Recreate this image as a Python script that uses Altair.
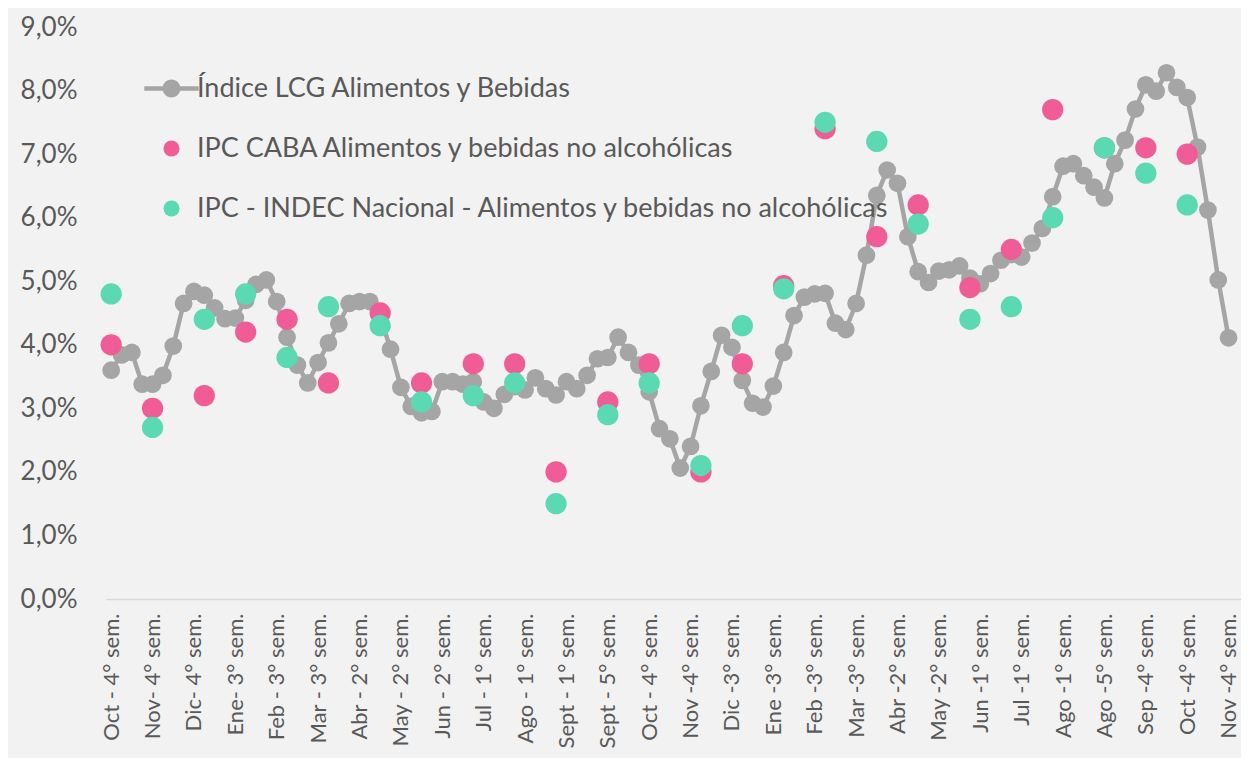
import json
import altair as alt
import pandas as pd

# ---------------- data ----------------
week_labels = [
    "Oct - 4° sem.", "Nov- 4° sem.", "Dic- 4° sem.", "Ene- 3° sem.", "Feb - 3° sem.",
    "Mar - 3° sem.", "Abr - 2° sem.", "May - 2° sem.", "Jun - 2° sem.", "Jul - 1° sem.",
    "Ago - 1° sem.", "Sept - 1° sem.", "Sept - 5° sem.", "Oct - 4° sem.", "Nov -4° sem.",
    "Dic -3° sem.", "Ene -3° sem.", "Feb -3° sem.", "Mar -3° sem.", "Abr -2° sem.",
    "May -2° sem.", "Jun -1° sem.", "Jul -1° sem.", "Ago -1° sem.", "Ago -5° sem.",
    "Sep -4° sem.", "Oct -4° sem.", "Nov -4° sem.",
]

lcg_weekly = [
    3.60, 3.84, 3.88, 3.38, 3.38, 3.52, 3.98, 4.65, 4.84, 4.78,
    4.58, 4.41, 4.42, 4.70, 4.95, 5.02, 4.68, 4.12, 3.68, 3.40,
    3.72, 4.03, 4.33, 4.65, 4.68, 4.68, 4.45, 3.93, 3.33, 3.03,
    2.93, 2.95, 3.42, 3.42, 3.38, 3.42, 3.10, 3.00, 3.22, 3.34,
    3.29, 3.48, 3.31, 3.21, 3.42, 3.31, 3.52, 3.78, 3.80, 4.12,
    3.88, 3.68, 3.26, 2.68, 2.52, 2.06, 2.40, 3.04, 3.58, 4.15,
    3.96, 3.44, 3.08, 3.02, 3.35, 3.88, 4.46, 4.75, 4.80, 4.81,
    4.34, 4.24, 4.65, 5.41, 6.35, 6.75, 6.54, 5.70, 5.15, 4.98,
    5.16, 5.18, 5.24, 5.05, 4.96, 5.12, 5.33, 5.42, 5.38, 5.60,
    5.83, 6.33, 6.81, 6.85, 6.66, 6.48, 6.31, 6.85, 7.22, 7.71,
    8.09, 7.99, 8.28, 8.05, 7.89, 7.11, 6.12, 5.02, 4.11,
]

month_week_index = [0, 4, 9, 13, 17, 21, 26, 30, 35, 39, 43, 48, 52, 57, 61,
                    65, 69, 74, 78, 83, 87, 91, 96, 100, 104]
caba = [4.0, 3.0, 3.2, 4.2, 4.4, 3.4, 4.5, 3.4, 3.7, 3.7, 2.0, 3.1, 3.7, 2.0, 3.7,
        4.93, 7.4, 5.7, 6.2, 4.9, 5.5, 7.7, 7.1, 7.1, 7.0]
indec = [4.8, 2.7, 4.4, 4.8, 3.8, 4.6, 4.3, 3.1, 3.2, 3.4, 1.5, 2.9, 3.4, 2.1, 4.3,
         4.88, 7.5, 7.2, 5.9, 4.4, 4.6, 6.0, 7.1, 6.7, 6.2]

s_lcg = "Índice LCG Alimentos y Bebidas"
s_caba = "IPC CABA Alimentos y bebidas no alcohólicas"
s_indec = "IPC - INDEC Nacional - Alimentos y bebidas no alcohólicas"
series_names = [s_lcg, s_caba, s_indec]

GRAY = "#A5A5A5"
PINK = "#F05C96"
GREEN = "#5AD9B3"
TEXT = "#595959"
FONT = "Lato"

df_line = pd.DataFrame({"idx": list(range(len(lcg_weekly))), "value": lcg_weekly})
df_pts = pd.concat([
    pd.DataFrame({"idx": month_week_index, "value": caba, "series": s_caba}),
    pd.DataFrame({"idx": month_week_index, "value": indec, "series": s_indec}),
], ignore_index=True)

label_expr = "[" + ",".join(json.dumps(l, ensure_ascii=False) for l in week_labels) + "][round(datum.value / 4)]"

x_enc = alt.X(
    "idx:Q",
    scale=alt.Scale(domain=[-0.5, 109.2], nice=False, zero=False),
    axis=alt.Axis(values=list(range(0, 109, 4)), labelExpr=label_expr, labelAngle=270,
                  title=None, grid=False, ticks=False, tickSize=0, labelPadding=14,
                  labelFontSize=22,
                  domainColor="#D9D9D9", domainWidth=1.3, labelLimit=1000),
)
y_enc = alt.Y(
    "value:Q",
    scale=alt.Scale(domain=[0, 9], nice=False),
    axis=alt.Axis(values=list(range(10)),
                  labelExpr="replace(format(datum.value, '.1f'), '.', ',') + '%'",
                  title=None, grid=False, domain=False, ticks=False, tickSize=0,
                  labelPadding=29),
)

line_symbol = ("M-3.4,-0.28L3.4,-0.28L3.4,0.28L-3.4,0.28Z "
               "M1.12,0A1.12,1.12 0 1,1 -1.12,0A1.12,1.12 0 1,1 1.12,0Z")

legend = alt.Legend(title=None, orient="none", legendX=52, legendY=48,
                    labelFont=FONT, labelFontSize=27, labelColor=TEXT,
                    symbolSize=256, labelOffset=12, rowPadding=32, padding=0,
                    labelLimit=1000)

line = alt.Chart(df_line).mark_line(color=GRAY, strokeWidth=4.5).encode(x=x_enc, y=y_enc)
dots = alt.Chart(df_line).mark_circle(color=GRAY, size=314, opacity=1).encode(x=x_enc, y=y_enc)
pts = alt.Chart(df_pts).mark_point(filled=True, size=452, opacity=1, strokeWidth=0).encode(
    x=x_enc, y=y_enc,
    color=alt.Color("series:N", scale=alt.Scale(domain=series_names, range=[GRAY, PINK, GREEN]),
                    legend=legend),
    shape=alt.Shape("series:N", scale=alt.Scale(domain=series_names,
                                                 range=[line_symbol, "circle", "circle"]),
                    legend=legend),
)

chart = (
    alt.layer(line, dots, pts)
    .properties(width=1135, height=572,
                padding={"left": 98, "top": 19, "right": 0, "bottom": 159},
                autosize=alt.AutoSizeParams(type="none"))
    .configure(background="#F2F2F2", font=FONT)
    .configure_view(stroke=None)
    .configure_axis(labelFont=FONT, labelFontSize=26, labelColor=TEXT)
)

chart.save("out.html", embed_options={"renderer": "svg", "actions": False})
